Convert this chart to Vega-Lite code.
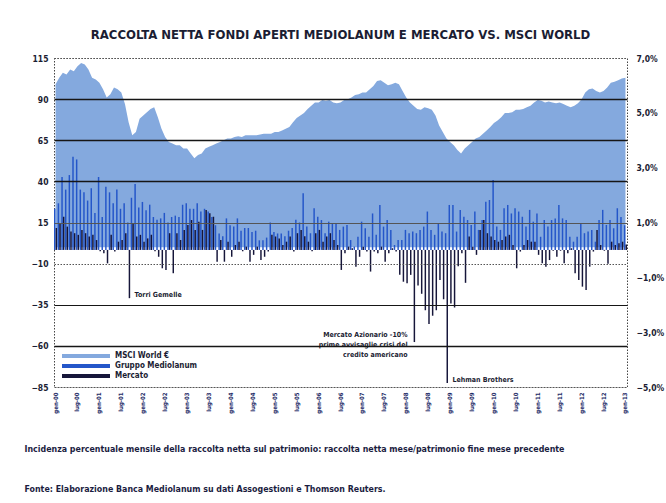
{
"$schema": "https://vega.github.io/schema/vega-lite/v6.json",
"width": 573, "height": 329,
"autosize": {"type": "none"},
"padding": {"left": 54, "top": 58, "right": 39, "bottom": 116},
"background": "white",
"title": {"text": "RACCOLTA NETTA FONDI APERTI MEDIOLANUM E MERCATO VS. MSCI WORLD", "anchor": "middle", "offset": 12, "fontSize": 13, "font": "Liberation Sans Narrow, DejaVu Sans Condensed", "fontWeight": "bold", "color": "#1b1d33"},
"config": {"view": {"stroke": "#444", "strokeDash": [1.5, 1.5], "strokeWidth": 1}, "font": "DejaVu Sans Condensed"},
"data": {"values": [
{"m":"2000-01","MSCI World €":99,"Gruppo Mediolanum":1.5,"Mercato":0.8},
{"m":"2000-02","MSCI World €":103,"Gruppo Mediolanum":1.7,"Mercato":0.97},
{"m":"2000-03","MSCI World €":106,"Gruppo Mediolanum":2.66,"Mercato":1.21},
{"m":"2000-04","MSCI World €":105,"Gruppo Mediolanum":2.2,"Mercato":0.85},
{"m":"2000-05","MSCI World €":108,"Gruppo Mediolanum":2.73,"Mercato":0.67},
{"m":"2000-06","MSCI World €":107,"Gruppo Mediolanum":3.4,"Mercato":0.61},
{"m":"2000-07","MSCI World €":110,"Gruppo Mediolanum":3.3,"Mercato":0.55},
{"m":"2000-08","MSCI World €":112,"Gruppo Mediolanum":2.2,"Mercato":0.73},
{"m":"2000-09","MSCI World €":111,"Gruppo Mediolanum":2.1,"Mercato":0.61},
{"m":"2000-10","MSCI World €":108,"Gruppo Mediolanum":1.8,"Mercato":0.49},
{"m":"2000-11","MSCI World €":103,"Gruppo Mediolanum":2.25,"Mercato":0.55},
{"m":"2000-12","MSCI World €":102,"Gruppo Mediolanum":1.35,"Mercato":0.36},
{"m":"2001-01","MSCI World €":100,"Gruppo Mediolanum":2.66,"Mercato":-0.05},
{"m":"2001-02","MSCI World €":96,"Gruppo Mediolanum":1.2,"Mercato":-0.12},
{"m":"2001-03","MSCI World €":91,"Gruppo Mediolanum":2.3,"Mercato":-0.49},
{"m":"2001-04","MSCI World €":93,"Gruppo Mediolanum":2.1,"Mercato":0.55},
{"m":"2001-05","MSCI World €":97,"Gruppo Mediolanum":1.7,"Mercato":-0.06},
{"m":"2001-06","MSCI World €":96,"Gruppo Mediolanum":2.2,"Mercato":0.3},
{"m":"2001-07","MSCI World €":94,"Gruppo Mediolanum":1.5,"Mercato":0.36},
{"m":"2001-08","MSCI World €":87,"Gruppo Mediolanum":1.7,"Mercato":0.61},
{"m":"2001-09","MSCI World €":76,"Gruppo Mediolanum":1.0,"Mercato":-1.76},
{"m":"2001-10","MSCI World €":68,"Gruppo Mediolanum":1.9,"Mercato":0.97},
{"m":"2001-11","MSCI World €":70,"Gruppo Mediolanum":2.4,"Mercato":0.49},
{"m":"2001-12","MSCI World €":78,"Gruppo Mediolanum":1.55,"Mercato":0.55},
{"m":"2002-01","MSCI World €":80,"Gruppo Mediolanum":1.75,"Mercato":0.3},
{"m":"2002-02","MSCI World €":82,"Gruppo Mediolanum":1.45,"Mercato":0.42},
{"m":"2002-03","MSCI World €":84,"Gruppo Mediolanum":1.65,"Mercato":0.55},
{"m":"2002-04","MSCI World €":85,"Gruppo Mediolanum":1.2,"Mercato":-0.05},
{"m":"2002-05","MSCI World €":79,"Gruppo Mediolanum":1.1,"Mercato":-0.25},
{"m":"2002-06","MSCI World €":72,"Gruppo Mediolanum":1.15,"Mercato":-0.67},
{"m":"2002-07","MSCI World €":67,"Gruppo Mediolanum":1.35,"Mercato":-0.73},
{"m":"2002-08","MSCI World €":64,"Gruppo Mediolanum":1.0,"Mercato":0.61},
{"m":"2002-09","MSCI World €":63,"Gruppo Mediolanum":1.2,"Mercato":-0.85},
{"m":"2002-10","MSCI World €":62,"Gruppo Mediolanum":1.25,"Mercato":0.61},
{"m":"2002-11","MSCI World €":62,"Gruppo Mediolanum":1.2,"Mercato":0.36},
{"m":"2002-12","MSCI World €":60,"Gruppo Mediolanum":1.65,"Mercato":0.73},
{"m":"2003-01","MSCI World €":60,"Gruppo Mediolanum":1.7,"Mercato":0.91},
{"m":"2003-02","MSCI World €":57,"Gruppo Mediolanum":1.5,"Mercato":1.09},
{"m":"2003-03","MSCI World €":54,"Gruppo Mediolanum":1.5,"Mercato":0.73},
{"m":"2003-04","MSCI World €":56,"Gruppo Mediolanum":1.7,"Mercato":1.03},
{"m":"2003-05","MSCI World €":57,"Gruppo Mediolanum":1.4,"Mercato":0.73},
{"m":"2003-06","MSCI World €":60,"Gruppo Mediolanum":1.5,"Mercato":1.46},
{"m":"2003-07","MSCI World €":61,"Gruppo Mediolanum":1.4,"Mercato":1.34},
{"m":"2003-08","MSCI World €":62,"Gruppo Mediolanum":1.2,"Mercato":1.21},
{"m":"2003-09","MSCI World €":63,"Gruppo Mediolanum":0.9,"Mercato":-0.43},
{"m":"2003-10","MSCI World €":64,"Gruppo Mediolanum":0.6,"Mercato":0.36},
{"m":"2003-11","MSCI World €":65,"Gruppo Mediolanum":0.5,"Mercato":-0.43},
{"m":"2003-12","MSCI World €":66,"Gruppo Mediolanum":1.15,"Mercato":0.3},
{"m":"2004-01","MSCI World €":66,"Gruppo Mediolanum":0.9,"Mercato":-0.25},
{"m":"2004-02","MSCI World €":67,"Gruppo Mediolanum":0.85,"Mercato":0.18},
{"m":"2004-03","MSCI World €":67.5,"Gruppo Mediolanum":1.15,"Mercato":0.3},
{"m":"2004-04","MSCI World €":67,"Gruppo Mediolanum":0.7,"Mercato":-0.05},
{"m":"2004-05","MSCI World €":68,"Gruppo Mediolanum":0.8,"Mercato":0.12},
{"m":"2004-06","MSCI World €":68,"Gruppo Mediolanum":0.8,"Mercato":-0.43},
{"m":"2004-07","MSCI World €":68,"Gruppo Mediolanum":0.65,"Mercato":-0.18},
{"m":"2004-08","MSCI World €":68,"Gruppo Mediolanum":0.7,"Mercato":0.12},
{"m":"2004-09","MSCI World €":68.5,"Gruppo Mediolanum":0.35,"Mercato":-0.37},
{"m":"2004-10","MSCI World €":69,"Gruppo Mediolanum":0.35,"Mercato":-0.25},
{"m":"2004-11","MSCI World €":69,"Gruppo Mediolanum":0.45,"Mercato":-0.06},
{"m":"2004-12","MSCI World €":69,"Gruppo Mediolanum":1.0,"Mercato":0.55},
{"m":"2005-01","MSCI World €":70,"Gruppo Mediolanum":0.65,"Mercato":0.49},
{"m":"2005-02","MSCI World €":70,"Gruppo Mediolanum":0.6,"Mercato":0.42},
{"m":"2005-03","MSCI World €":71,"Gruppo Mediolanum":0.6,"Mercato":0.18},
{"m":"2005-04","MSCI World €":72,"Gruppo Mediolanum":0.5,"Mercato":0.3},
{"m":"2005-05","MSCI World €":73,"Gruppo Mediolanum":0.7,"Mercato":0.49},
{"m":"2005-06","MSCI World €":76,"Gruppo Mediolanum":0.8,"Mercato":-0.06},
{"m":"2005-07","MSCI World €":78.5,"Gruppo Mediolanum":1.1,"Mercato":0.61},
{"m":"2005-08","MSCI World €":80,"Gruppo Mediolanum":1.0,"Mercato":0.73},
{"m":"2005-09","MSCI World €":81.5,"Gruppo Mediolanum":2.07,"Mercato":0.5},
{"m":"2005-10","MSCI World €":84,"Gruppo Mediolanum":0.85,"Mercato":0.3},
{"m":"2005-11","MSCI World €":86,"Gruppo Mediolanum":0.61,"Mercato":-0.05},
{"m":"2005-12","MSCI World €":88,"Gruppo Mediolanum":1.52,"Mercato":0.61},
{"m":"2006-01","MSCI World €":88,"Gruppo Mediolanum":1.21,"Mercato":0.73},
{"m":"2006-02","MSCI World €":89.5,"Gruppo Mediolanum":1.09,"Mercato":0.3},
{"m":"2006-03","MSCI World €":89,"Gruppo Mediolanum":0.61,"Mercato":0.49},
{"m":"2006-04","MSCI World €":89.5,"Gruppo Mediolanum":1.03,"Mercato":0.61},
{"m":"2006-05","MSCI World €":88,"Gruppo Mediolanum":0.97,"Mercato":0.36},
{"m":"2006-06","MSCI World €":87.5,"Gruppo Mediolanum":0.97,"Mercato":0.18},
{"m":"2006-07","MSCI World €":88,"Gruppo Mediolanum":0.73,"Mercato":-0.73},
{"m":"2006-08","MSCI World €":89.5,"Gruppo Mediolanum":0.85,"Mercato":-0.12},
{"m":"2006-09","MSCI World €":90,"Gruppo Mediolanum":0.91,"Mercato":0.12},
{"m":"2006-10","MSCI World €":91,"Gruppo Mediolanum":0.36,"Mercato":0.06},
{"m":"2006-11","MSCI World €":92.5,"Gruppo Mediolanum":0.12,"Mercato":-0.61},
{"m":"2006-12","MSCI World €":93,"Gruppo Mediolanum":0.48,"Mercato":-0.25},
{"m":"2007-01","MSCI World €":94,"Gruppo Mediolanum":1.03,"Mercato":0.12},
{"m":"2007-02","MSCI World €":94,"Gruppo Mediolanum":0.79,"Mercato":-0.06},
{"m":"2007-03","MSCI World €":96,"Gruppo Mediolanum":0.48,"Mercato":-0.79},
{"m":"2007-04","MSCI World €":98,"Gruppo Mediolanum":1.33,"Mercato":-0.06},
{"m":"2007-05","MSCI World €":101,"Gruppo Mediolanum":0.55,"Mercato":-0.12},
{"m":"2007-06","MSCI World €":101.5,"Gruppo Mediolanum":1.64,"Mercato":0.12},
{"m":"2007-07","MSCI World €":100,"Gruppo Mediolanum":0.85,"Mercato":-0.43},
{"m":"2007-08","MSCI World €":98.5,"Gruppo Mediolanum":1.09,"Mercato":-0.12},
{"m":"2007-09","MSCI World €":99,"Gruppo Mediolanum":0.73,"Mercato":0.06},
{"m":"2007-10","MSCI World €":100,"Gruppo Mediolanum":0.18,"Mercato":-0.06},
{"m":"2007-11","MSCI World €":99,"Gruppo Mediolanum":0.36,"Mercato":-0.91},
{"m":"2007-12","MSCI World €":95,"Gruppo Mediolanum":0.36,"Mercato":-1.16},
{"m":"2008-01","MSCI World €":91,"Gruppo Mediolanum":0.73,"Mercato":-1.22},
{"m":"2008-02","MSCI World €":88,"Gruppo Mediolanum":0.61,"Mercato":-0.91},
{"m":"2008-03","MSCI World €":86,"Gruppo Mediolanum":0.67,"Mercato":-3.36},
{"m":"2008-04","MSCI World €":84,"Gruppo Mediolanum":0.61,"Mercato":-1.3},
{"m":"2008-05","MSCI World €":83.5,"Gruppo Mediolanum":0.73,"Mercato":-1.6},
{"m":"2008-06","MSCI World €":85,"Gruppo Mediolanum":0.85,"Mercato":-2.2},
{"m":"2008-07","MSCI World €":84.5,"Gruppo Mediolanum":1.4,"Mercato":-2.7},
{"m":"2008-08","MSCI World €":83.5,"Gruppo Mediolanum":0.73,"Mercato":-2.4},
{"m":"2008-09","MSCI World €":80,"Gruppo Mediolanum":0.55,"Mercato":-2.2},
{"m":"2008-10","MSCI World €":74,"Gruppo Mediolanum":0.97,"Mercato":-1.1},
{"m":"2008-11","MSCI World €":70,"Gruppo Mediolanum":0.67,"Mercato":-1.8},
{"m":"2008-12","MSCI World €":66,"Gruppo Mediolanum":0.61,"Mercato":-4.85},
{"m":"2009-01","MSCI World €":64,"Gruppo Mediolanum":1.64,"Mercato":-1.95},
{"m":"2009-02","MSCI World €":62,"Gruppo Mediolanum":1.64,"Mercato":-2.1},
{"m":"2009-03","MSCI World €":59,"Gruppo Mediolanum":0.67,"Mercato":-0.6},
{"m":"2009-04","MSCI World €":57,"Gruppo Mediolanum":1.46,"Mercato":-0.12},
{"m":"2009-05","MSCI World €":60,"Gruppo Mediolanum":1.21,"Mercato":-1.2},
{"m":"2009-06","MSCI World €":62,"Gruppo Mediolanum":1.09,"Mercato":0.49},
{"m":"2009-07","MSCI World €":64,"Gruppo Mediolanum":0.91,"Mercato":0.12},
{"m":"2009-08","MSCI World €":66,"Gruppo Mediolanum":1.4,"Mercato":-0.18},
{"m":"2009-09","MSCI World €":67,"Gruppo Mediolanum":0.73,"Mercato":0.73},
{"m":"2009-10","MSCI World €":69,"Gruppo Mediolanum":1.09,"Mercato":1.09},
{"m":"2009-11","MSCI World €":71,"Gruppo Mediolanum":1.76,"Mercato":0.61},
{"m":"2009-12","MSCI World €":73,"Gruppo Mediolanum":1.82,"Mercato":0.49},
{"m":"2010-01","MSCI World €":75.5,"Gruppo Mediolanum":2.55,"Mercato":0.36},
{"m":"2010-02","MSCI World €":77,"Gruppo Mediolanum":0.85,"Mercato":0.3},
{"m":"2010-03","MSCI World €":79,"Gruppo Mediolanum":0.73,"Mercato":0.36},
{"m":"2010-04","MSCI World €":81.5,"Gruppo Mediolanum":1.52,"Mercato":0.49},
{"m":"2010-05","MSCI World €":81.5,"Gruppo Mediolanum":1.64,"Mercato":0.55},
{"m":"2010-06","MSCI World €":82,"Gruppo Mediolanum":1.33,"Mercato":0.18},
{"m":"2010-07","MSCI World €":83.5,"Gruppo Mediolanum":1.52,"Mercato":-0.67},
{"m":"2010-08","MSCI World €":83.5,"Gruppo Mediolanum":1.4,"Mercato":-0.06},
{"m":"2010-09","MSCI World €":84,"Gruppo Mediolanum":1.21,"Mercato":0.18},
{"m":"2010-10","MSCI World €":85,"Gruppo Mediolanum":0.85,"Mercato":0.36},
{"m":"2010-11","MSCI World €":86,"Gruppo Mediolanum":1.46,"Mercato":0.3},
{"m":"2010-12","MSCI World €":88,"Gruppo Mediolanum":1.03,"Mercato":0.3},
{"m":"2011-01","MSCI World €":89.5,"Gruppo Mediolanum":1.33,"Mercato":-0.18},
{"m":"2011-02","MSCI World €":89,"Gruppo Mediolanum":0.48,"Mercato":-0.49},
{"m":"2011-03","MSCI World €":88,"Gruppo Mediolanum":1.09,"Mercato":-0.61},
{"m":"2011-04","MSCI World €":88.5,"Gruppo Mediolanum":0.85,"Mercato":-0.37},
{"m":"2011-05","MSCI World €":88,"Gruppo Mediolanum":1.09,"Mercato":-0.03},
{"m":"2011-06","MSCI World €":87.5,"Gruppo Mediolanum":1.15,"Mercato":-0.25},
{"m":"2011-07","MSCI World €":88,"Gruppo Mediolanum":1.64,"Mercato":-0.03},
{"m":"2011-08","MSCI World €":87,"Gruppo Mediolanum":1.15,"Mercato":-0.49},
{"m":"2011-09","MSCI World €":86,"Gruppo Mediolanum":1.09,"Mercato":-0.12},
{"m":"2011-10","MSCI World €":85,"Gruppo Mediolanum":0.48,"Mercato":0.06},
{"m":"2011-11","MSCI World €":86,"Gruppo Mediolanum":0.3,"Mercato":-0.85},
{"m":"2011-12","MSCI World €":87.5,"Gruppo Mediolanum":0.48,"Mercato":-1.1},
{"m":"2012-01","MSCI World €":90,"Gruppo Mediolanum":0.97,"Mercato":-1.34},
{"m":"2012-02","MSCI World €":94,"Gruppo Mediolanum":0.61,"Mercato":-1.46},
{"m":"2012-03","MSCI World €":96,"Gruppo Mediolanum":0.67,"Mercato":-0.61},
{"m":"2012-04","MSCI World €":96.5,"Gruppo Mediolanum":0.73,"Mercato":-0.06},
{"m":"2012-05","MSCI World €":95,"Gruppo Mediolanum":0.3,"Mercato":0.73},
{"m":"2012-06","MSCI World €":94,"Gruppo Mediolanum":1.09,"Mercato":0.18},
{"m":"2012-07","MSCI World €":95,"Gruppo Mediolanum":1.46,"Mercato":-0.03},
{"m":"2012-08","MSCI World €":97,"Gruppo Mediolanum":0.91,"Mercato":-0.5},
{"m":"2012-09","MSCI World €":100,"Gruppo Mediolanum":1.09,"Mercato":0.3},
{"m":"2012-10","MSCI World €":100.5,"Gruppo Mediolanum":0.79,"Mercato":0.18},
{"m":"2012-11","MSCI World €":101.5,"Gruppo Mediolanum":1.52,"Mercato":0.24},
{"m":"2012-12","MSCI World €":102.5,"Gruppo Mediolanum":1.2,"Mercato":0.3},
{"m":"2013-01","MSCI World €":103,"Gruppo Mediolanum":0.9,"Mercato":0.2}
]},
"encoding": {
  "x": {"field": "m", "type": "ordinal", "scale": {"paddingInner": 0.15, "paddingOuter": 0},
    "axis": {
      "values": ["2000-01","2000-07","2001-01","2001-07","2002-01","2002-07","2003-01","2003-07","2004-01","2004-07","2005-01","2005-07","2006-01","2006-07","2007-01","2007-07","2008-01","2008-07","2009-01","2009-07","2010-01","2010-07","2011-01","2011-07","2012-01","2012-07","2013-01"],
      "labelExpr": "['gen','feb','mar','apr','mag','giu','lug','ago','set','ott','nov','dic'][toNumber(substring(datum.value,5,7))-1] + '-' + substring(datum.value,2,4)",
      "labelAngle": -90, "labelFontSize": 6, "labelFontWeight": "bold", "labelColor": "#1d2a66", "labelPadding": 5,
      "ticks": false, "domain": false, "grid": false,
      "title": ["Incidenza percentuale mensile della raccolta netta sul patrimonio: raccolta netta mese/patrimonio fine mese precedente", "Fonte: Elaborazione Banca Mediolanum su dati Assogestioni e Thomson Reuters."],
      "titleAnchor": "start", "titleAlign": "left", "titleX": -30, "titleY": 57, "titleBaseline": "top",
      "titleLineHeight": 40, "titleFontSize": 8.8, "titleFontWeight": "bold", "titleColor": "#1b1d3f", "titleFont": "DejaVu Sans Condensed"
    }
  }
},
"layer": [
  {
    "mark": {"type": "area", "opacity": 1},
    "encoding": {
      "y": {"field": "MSCI World €", "type": "quantitative", "scale": {"domain": [-85, 115], "nice": false, "zero": false},
        "axis": {"orient": "left", "values": [115, 90, 65, 40, 15, -10, -35, -60, -85], "title": null,
          "domain": false, "ticks": false, "labelPadding": 6, "labelFontSize": 8.5, "labelFontWeight": "bold", "labelColor": "#1b1d33",
          "zindex": 1, "grid": true,
          "gridColor": {"condition": {"test": "datum.value==115 || datum.value==-10 || datum.value==-85 || datum.value==15", "value": "#555"}, "value": "#161616"},
          "gridDash": {"condition": {"test": "datum.value==115 || datum.value==-10 || datum.value==-85", "value": [1.5, 1.5]}, "value": []},
          "gridWidth": {"condition": {"test": "datum.value==90 || datum.value==65 || datum.value==40 || datum.value==-60", "value": 1.6}, "value": 1},
          "gridOpacity": 1}},
      "color": {"datum": "MSCI World €", "type": "nominal",
        "scale": {"domain": ["MSCI World €", "Gruppo Mediolanum", "Mercato"], "range": ["#84a9de", "#2456c9", "#16163a"]},
        "legend": {"orient": "none", "legendX": 27, "legendY": 293, "title": null, "padding": 0,
          "symbolType": "M-4.8,-0.4H4.8V0.4H-4.8Z", "symbolSize": 100, "symbolStrokeWidth": 0,
          "labelFontSize": 8, "labelFontWeight": "bold", "labelColor": "#1b1d33", "labelFont": "DejaVu Sans Condensed",
          "rowPadding": 1, "labelOffset": 24}}
    }
  },
  {
    "transform": [{"fold": ["Gruppo Mediolanum", "Mercato"], "as": ["s", "v"]}],
    "mark": {"type": "bar"},
    "encoding": {
      "xOffset": {"field": "s", "type": "nominal", "scale": {"domain": ["Gruppo Mediolanum", "Mercato"], "paddingInner": 0.1}},
      "y": {"field": "v", "type": "quantitative", "scale": {"domain": [-5, 7], "nice": false, "zero": false},
        "axis": {"orient": "right", "values": [7, 5, 3, 1, -1, -3, -5], "title": null,
          "labelExpr": "replace(format(datum.value, '.1f'), '.', ',') + '%'",
          "grid": false, "domain": false, "ticks": false, "labelPadding": 9, "labelFontSize": 8.5, "labelFontWeight": "bold", "labelColor": "#1b1d33"}},
      "color": {"field": "s", "type": "nominal",
        "scale": {"domain": ["MSCI World €", "Gruppo Mediolanum", "Mercato"], "range": ["#84a9de", "#2456c9", "#16163a"]},
        "legend": {"orient": "none", "legendX": 27, "legendY": 293, "title": null, "padding": 0,
          "symbolType": "M-4.8,-0.4H4.8V0.4H-4.8Z", "symbolSize": 100, "symbolStrokeWidth": 0,
          "labelFontSize": 8, "labelFontWeight": "bold", "labelColor": "#1b1d33", "labelFont": "DejaVu Sans Condensed",
          "rowPadding": 1, "labelOffset": 24}}
    }
  },
  {
    "data": {"values": [
      {"m": "2001-09", "v": -1.76, "t": "Torri Gemelle"},
      {"m": "2008-12", "v": -4.85, "t": "Lehman Brothers"}
    ]},
    "mark": {"type": "text", "align": "left", "baseline": "middle", "dx": 6, "dy": -3, "fontSize": 7, "fontWeight": "bold", "color": "#1b1d33", "font": "DejaVu Sans Condensed"},
    "encoding": {
      "y": {"field": "v", "type": "quantitative", "scale": {"domain": [-5, 7], "nice": false, "zero": false}, "axis": null},
      "text": {"field": "t", "type": "nominal"}
    }
  },
  {
    "data": {"values": [
      {"m": "2008-03", "v": -3.36, "t": ["Mercato Azionario -10%", "prime avvisaglie crisi del", "credito americano"]}
    ]},
    "mark": {"type": "text", "align": "right", "baseline": "bottom", "dx": -6, "dy": -4, "lineHeight": 10, "fontSize": 7, "fontWeight": "bold", "color": "#1b1d33", "font": "DejaVu Sans Condensed"},
    "encoding": {
      "y": {"field": "v", "type": "quantitative", "scale": {"domain": [-5, 7], "nice": false, "zero": false}, "axis": null},
      "text": {"field": "t", "type": "nominal"}
    }
  }
],
"resolve": {"scale": {"y": "independent", "color": "shared"}}
}
